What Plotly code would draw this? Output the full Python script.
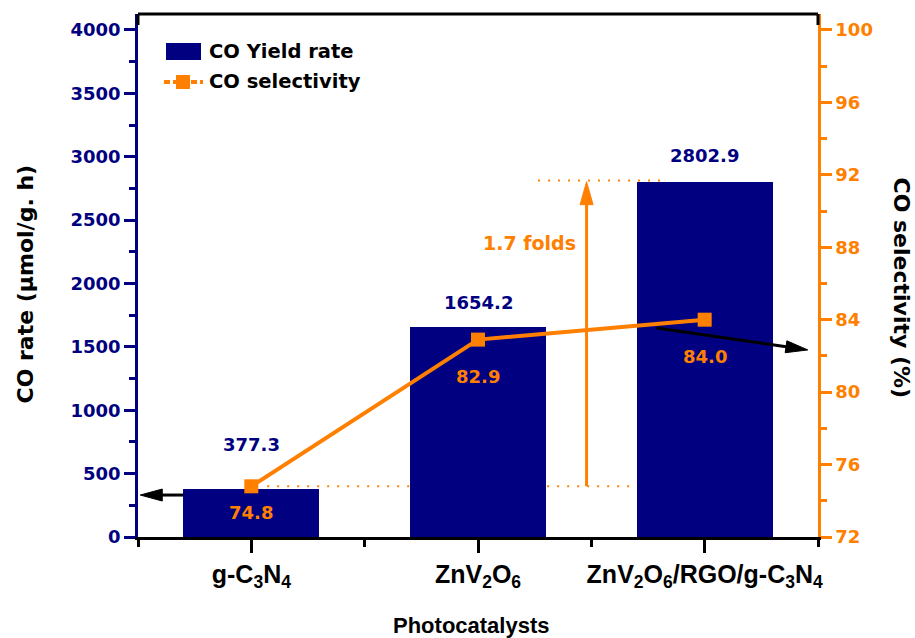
import plotly.graph_objects as go

# ---------------- data ----------------
catalysts = ["g-C3N4", "ZnV2O6", "ZnV2O6/RGO/g-C3N4"]
co_rate = [377.3, 1654.2, 2802.9]          # µmol/g.h (left axis)
co_selectivity = [74.8, 82.9, 84.0]        # % (right axis)
rate_ticks = [0, 500, 1000, 1500, 2000, 2500, 3000, 3500, 4000]
sel_ticks = [72, 76, 80, 84, 88, 92, 96, 100]
tick_labels = [
    "g-C<sub>3</sub>N<sub>4</sub>",
    "ZnV<sub>2</sub>O<sub>6</sub>",
    "ZnV<sub>2</sub>O<sub>6</sub>/RGO/g-C<sub>3</sub>N<sub>4</sub>",
]
fold_text = "1.7 folds"

# ---------------- style ----------------
NAVY = "#000080"
ORANGE = "#FF8000"
BOLD_FONT = "DejaVu Sans"
TICK_FONT = "Liberation Sans"
X_RANGE = [-0.5, 2.5]
Y1_RANGE = [0, 4126]
Y2_RANGE = [72, 100.88]
rate_label_shift = [45, 25, 26]
sel_label_shift = [-26, -37, -37]

L, R, T, B = 138, 97, 14, 101
W, H = 915, 638
PW, PH = W - L - R, H - T - B


def px_x(p):
    return (p - L) / PW


def px_y(p):
    return (H - B - p) / PH


def xd_px(v):
    return L + (v - X_RANGE[0]) / (X_RANGE[1] - X_RANGE[0]) * PW


def y1_px(v):
    return T + PH - (v - Y1_RANGE[0]) / (Y1_RANGE[1] - Y1_RANGE[0]) * PH


def y2_px(v):
    return T + PH - (v - Y2_RANGE[0]) / (Y2_RANGE[1] - Y2_RANGE[0]) * PH


def arrow(tail, head, color, width=3, head_len=22, head_half=6):
    (tx, ty), (hx, hy) = tail, head
    dx, dy = hx - tx, hy - ty
    n = (dx * dx + dy * dy) ** 0.5
    ux, uy = dx / n, dy / n
    bx, by = hx - ux * head_len, hy - uy * head_len
    px_, py_ = -uy, ux
    p1 = (bx + px_ * head_half, by + py_ * head_half)
    p2 = (bx - px_ * head_half, by - py_ * head_half)
    line = dict(type="line", xref="paper", yref="paper",
                x0=px_x(tx), y0=px_y(ty), x1=px_x(bx + ux * 2), y1=px_y(by + uy * 2),
                line=dict(color=color, width=width))
    tri = dict(type="path", xref="paper", yref="paper",
               path=(f"M{px_x(hx)},{px_y(hy)} L{px_x(p1[0])},{px_y(p1[1])} "
                     f"L{px_x(p2[0])},{px_y(p2[1])} Z"),
               fillcolor=color, line=dict(color=color, width=1))
    return [line, tri]


xpos = list(range(len(catalysts)))

fig = go.Figure()
fig.add_trace(go.Bar(
    x=xpos, y=co_rate, width=0.6, name="CO Yield rate",
    marker=dict(color=NAVY, line=dict(width=0)), yaxis="y",
    showlegend=False,
))
fig.add_trace(go.Scatter(
    x=xpos, y=co_selectivity, name="CO selectivity", mode="lines+markers",
    line=dict(color=ORANGE, width=4),
    marker=dict(symbol="square", size=14, color=ORANGE),
    yaxis="y2", showlegend=False,
))

annotations = []
for i, v in enumerate(co_rate):
    annotations.append(dict(
        x=i, y=v, xref="x", yref="y", text=f"{v:.1f}", showarrow=False,
        yshift=rate_label_shift[i], yanchor="middle",
        font=dict(family=BOLD_FONT, size=18, color=NAVY, weight="bold"),
    ))
for i, v in enumerate(co_selectivity):
    annotations.append(dict(
        x=i, y=v, xref="x", yref="y2", text=f"{v:.1f}", showarrow=False,
        yshift=sel_label_shift[i], yanchor="middle",
        font=dict(family=BOLD_FONT, size=18, color=ORANGE, weight="bold"),
    ))

annotations.append(dict(
    x=1.227, y=2318, xref="x", yref="y", text=fold_text, showarrow=False,
    font=dict(family=BOLD_FONT, size=19, color=ORANGE, weight="bold"),
))

# axis titles
annotations.append(dict(
    x=px_x(24.5), y=px_y(284), xref="paper", yref="paper", text="CO rate (µmol/g. h)",
    textangle=-90, showarrow=False, xanchor="center", yanchor="middle",
    font=dict(family=BOLD_FONT, size=22, color="black", weight="bold"),
))
annotations.append(dict(
    x=px_x(901), y=px_y(287.5), xref="paper", yref="paper", text="CO selectivity (%)",
    textangle=90, showarrow=False, xanchor="center", yanchor="middle",
    font=dict(family=BOLD_FONT, size=22, color="black", weight="bold"),
))
annotations.append(dict(
    x=px_x(471.5), y=px_y(625), xref="paper", yref="paper", text="Photocatalysts",
    showarrow=False, xanchor="center", yanchor="middle",
    font=dict(family=TICK_FONT, size=22, color="black", weight="bold"),
))

# legend (manual)
annotations.append(dict(
    x=px_x(207), y=px_y(51.5), xref="paper", yref="paper", text="CO Yield rate",
    showarrow=False, xanchor="left", yanchor="middle",
    font=dict(family=BOLD_FONT, size=19.5, color="black", weight="bold"),
))
annotations.append(dict(
    x=px_x(207), y=px_y(82), xref="paper", yref="paper", text="CO selectivity",
    showarrow=False, xanchor="left", yanchor="middle",
    font=dict(family=BOLD_FONT, size=19.5, color="black", weight="bold"),
))

shapes = [
    dict(type="line", xref="x", yref="y2", x0=0.07, x1=1.69, y0=co_selectivity[0], y1=co_selectivity[0],
         line=dict(color=ORANGE, width=2, dash="2px,8px"), layer="below"),
    dict(type="line", xref="x", yref="y", x0=1.265, x1=1.832, y0=co_rate[2] + 10, y1=co_rate[2] + 10,
         line=dict(color=ORANGE, width=2, dash="2px,8px"), layer="below"),
    dict(type="line", xref="paper", yref="paper", x0=0, x1=1, y0=1, y1=1,
         line=dict(color="black", width=3)),
    dict(type="line", xref="paper", yref="paper", x0=0, x1=0, y0=px_y(25), y1=1,
         line=dict(color="black", width=3)),
    dict(type="line", xref="paper", yref="paper", x0=1, x1=1, y0=px_y(25), y1=1,
         line=dict(color="black", width=3)),
    dict(type="rect", xref="paper", yref="paper", x0=px_x(166), x1=px_x(201), y0=px_y(60), y1=px_y(43),
         fillcolor=NAVY, line=dict(width=0)),
    dict(type="line", xref="paper", yref="paper", x0=px_x(164), x1=px_x(203), y0=px_y(82), y1=px_y(82),
         line=dict(color=ORANGE, width=4, dash="6px,3px")),
    dict(type="rect", xref="paper", yref="paper", x0=px_x(176), x1=px_x(190), y0=px_y(89), y1=px_y(75),
         fillcolor=ORANGE, line=dict(width=0)),
]

shapes += arrow((xd_px(xpos[0] - 0.3), y1_px(331)), (xd_px(-0.49), y1_px(331)), "black")
shapes += arrow((xd_px(1.788), y2_px(83.54)), (xd_px(2.455), y2_px(82.33)), "black")
shapes += arrow((xd_px(1.479), y2_px(co_selectivity[0])), (xd_px(1.479), y1_px(co_rate[2])),
                ORANGE, width=3, head_len=23, head_half=6.5)

fig.update_layout(
    width=W, height=H,
    margin=dict(l=L, r=R, t=T, b=B, pad=0),
    paper_bgcolor="white", plot_bgcolor="white",
    showlegend=False,
    bargap=0,
    xaxis=dict(
        range=X_RANGE, tickmode="array", tickvals=xpos, ticktext=tick_labels,
        showline=True, linecolor="black", linewidth=3, mirror=False,
        ticks="outside", ticklen=13, tickwidth=3, tickcolor="black",
        minor=dict(tickvals=[-0.5, 0.5, 1.5, 2.5], ticks="outside", ticklen=7, tickwidth=3, tickcolor="black"),
        showgrid=False, zeroline=False,
        tickfont=dict(family=TICK_FONT, size=25, color="black", weight="bold"),
    ),
    yaxis=dict(
        range=Y1_RANGE, tickmode="array", tickvals=rate_ticks,
        showline=True, linecolor=NAVY, linewidth=2.5,
        ticks="outside", ticklen=11, tickwidth=2.5, tickcolor=NAVY,
        minor=dict(dtick=250, ticks="outside", ticklen=6, tickwidth=2.5, tickcolor=NAVY),
        showgrid=False, zeroline=False,
        tickfont=dict(family=BOLD_FONT, size=18, color=NAVY, weight="bold"),
    ),
    yaxis2=dict(
        range=Y2_RANGE, tickmode="array", tickvals=sel_ticks,
        overlaying="y", side="right",
        showline=True, linecolor=ORANGE, linewidth=2.5,
        ticks="outside", ticklen=11, tickwidth=2.5, tickcolor=ORANGE,
        minor=dict(dtick=2, ticks="outside", ticklen=6, tickwidth=2.5, tickcolor=ORANGE),
        showgrid=False, zeroline=False,
        tickfont=dict(family=BOLD_FONT, size=18, color=ORANGE, weight="bold"),
    ),
    annotations=annotations,
    shapes=shapes,
)

fig.write_html("out.html")
